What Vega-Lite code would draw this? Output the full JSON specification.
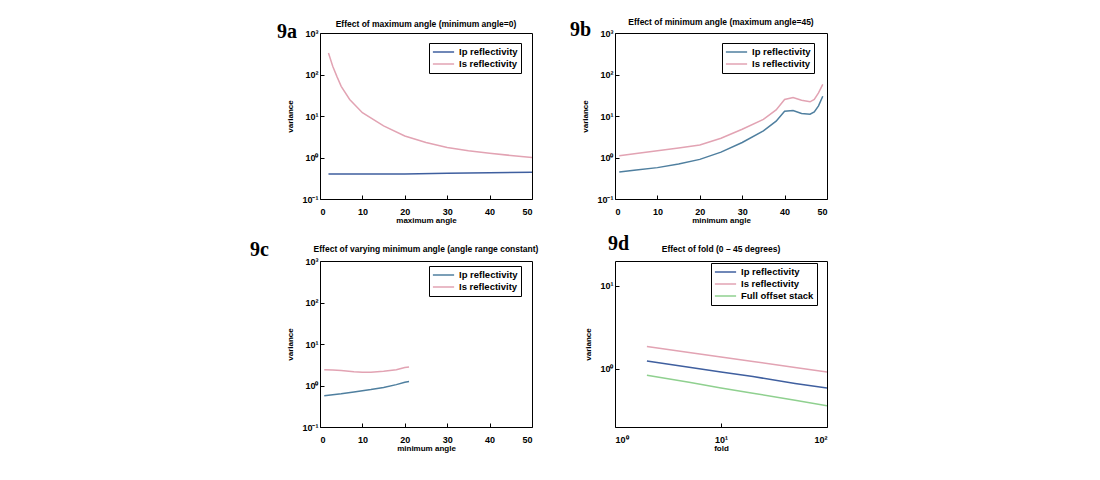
{
  "$schema": "https://vega.github.io/schema/vega-lite/v6.json",
  "background": "white",
  "autosize": {"type": "pad"},
  "padding": {"left": 249, "top": 17, "right": 0, "bottom": 0},
  "datasets": {
    "a": [
      {"series": "Is reflectivity", "x": 2, "y": 331},
      {"series": "Is reflectivity", "x": 3, "y": 158},
      {"series": "Is reflectivity", "x": 4, "y": 89},
      {"series": "Is reflectivity", "x": 5, "y": 52},
      {"series": "Is reflectivity", "x": 7, "y": 25},
      {"series": "Is reflectivity", "x": 10, "y": 12},
      {"series": "Is reflectivity", "x": 15, "y": 5.8},
      {"series": "Is reflectivity", "x": 20, "y": 3.3},
      {"series": "Is reflectivity", "x": 25, "y": 2.3},
      {"series": "Is reflectivity", "x": 30, "y": 1.74},
      {"series": "Is reflectivity", "x": 35, "y": 1.45},
      {"series": "Is reflectivity", "x": 40, "y": 1.26},
      {"series": "Is reflectivity", "x": 45, "y": 1.12},
      {"series": "Is reflectivity", "x": 50, "y": 1.0},
      {"series": "Ip reflectivity", "x": 2, "y": 0.40},
      {"series": "Ip reflectivity", "x": 10, "y": 0.40},
      {"series": "Ip reflectivity", "x": 20, "y": 0.40},
      {"series": "Ip reflectivity", "x": 30, "y": 0.42},
      {"series": "Ip reflectivity", "x": 40, "y": 0.43},
      {"series": "Ip reflectivity", "x": 50, "y": 0.44}
    ],
    "b": [
      {"series": "Is reflectivity", "x": 1, "y": 1.1},
      {"series": "Is reflectivity", "x": 5, "y": 1.25},
      {"series": "Is reflectivity", "x": 10, "y": 1.45},
      {"series": "Is reflectivity", "x": 15, "y": 1.7},
      {"series": "Is reflectivity", "x": 20, "y": 2.0},
      {"series": "Is reflectivity", "x": 25, "y": 2.9},
      {"series": "Is reflectivity", "x": 30, "y": 4.8},
      {"series": "Is reflectivity", "x": 35, "y": 8.3},
      {"series": "Is reflectivity", "x": 38, "y": 14},
      {"series": "Is reflectivity", "x": 40, "y": 25},
      {"series": "Is reflectivity", "x": 42, "y": 28},
      {"series": "Is reflectivity", "x": 44, "y": 24},
      {"series": "Is reflectivity", "x": 46, "y": 22},
      {"series": "Is reflectivity", "x": 47, "y": 25},
      {"series": "Is reflectivity", "x": 48, "y": 36},
      {"series": "Is reflectivity", "x": 49, "y": 58},
      {"series": "Ip reflectivity", "x": 1, "y": 0.45},
      {"series": "Ip reflectivity", "x": 5, "y": 0.5},
      {"series": "Ip reflectivity", "x": 10, "y": 0.57},
      {"series": "Ip reflectivity", "x": 15, "y": 0.7},
      {"series": "Ip reflectivity", "x": 20, "y": 0.9},
      {"series": "Ip reflectivity", "x": 25, "y": 1.35},
      {"series": "Ip reflectivity", "x": 30, "y": 2.3},
      {"series": "Ip reflectivity", "x": 35, "y": 4.4},
      {"series": "Ip reflectivity", "x": 38, "y": 7.5},
      {"series": "Ip reflectivity", "x": 40, "y": 13},
      {"series": "Ip reflectivity", "x": 42, "y": 13.5},
      {"series": "Ip reflectivity", "x": 44, "y": 11.5},
      {"series": "Ip reflectivity", "x": 46, "y": 11},
      {"series": "Ip reflectivity", "x": 47, "y": 12.5},
      {"series": "Ip reflectivity", "x": 48, "y": 17.5},
      {"series": "Ip reflectivity", "x": 49, "y": 30}
    ],
    "c": [
      {"series": "Is reflectivity", "x": 1, "y": 2.4},
      {"series": "Is reflectivity", "x": 3, "y": 2.35},
      {"series": "Is reflectivity", "x": 5, "y": 2.3},
      {"series": "Is reflectivity", "x": 8, "y": 2.15},
      {"series": "Is reflectivity", "x": 10, "y": 2.1},
      {"series": "Is reflectivity", "x": 12, "y": 2.1},
      {"series": "Is reflectivity", "x": 15, "y": 2.2},
      {"series": "Is reflectivity", "x": 18, "y": 2.4},
      {"series": "Is reflectivity", "x": 20, "y": 2.7},
      {"series": "Is reflectivity", "x": 21, "y": 2.8},
      {"series": "Ip reflectivity", "x": 1, "y": 0.57},
      {"series": "Ip reflectivity", "x": 3, "y": 0.6},
      {"series": "Ip reflectivity", "x": 5, "y": 0.63},
      {"series": "Ip reflectivity", "x": 8, "y": 0.7},
      {"series": "Ip reflectivity", "x": 10, "y": 0.75},
      {"series": "Ip reflectivity", "x": 12, "y": 0.8},
      {"series": "Ip reflectivity", "x": 15, "y": 0.9},
      {"series": "Ip reflectivity", "x": 18, "y": 1.05},
      {"series": "Ip reflectivity", "x": 20, "y": 1.2},
      {"series": "Ip reflectivity", "x": 21, "y": 1.25}
    ],
    "d": [
      {"series": "Is reflectivity", "x": 2, "y": 1.86},
      {"series": "Is reflectivity", "x": 5, "y": 1.58},
      {"series": "Is reflectivity", "x": 10, "y": 1.39},
      {"series": "Is reflectivity", "x": 20, "y": 1.23},
      {"series": "Is reflectivity", "x": 50, "y": 1.04},
      {"series": "Is reflectivity", "x": 100, "y": 0.92},
      {"series": "Ip reflectivity", "x": 2, "y": 1.25},
      {"series": "Ip reflectivity", "x": 5, "y": 1.05},
      {"series": "Ip reflectivity", "x": 10, "y": 0.92},
      {"series": "Ip reflectivity", "x": 20, "y": 0.81},
      {"series": "Ip reflectivity", "x": 50, "y": 0.67},
      {"series": "Ip reflectivity", "x": 100, "y": 0.59},
      {"series": "Full offset stack", "x": 2, "y": 0.84},
      {"series": "Full offset stack", "x": 5, "y": 0.69},
      {"series": "Full offset stack", "x": 10, "y": 0.59},
      {"series": "Full offset stack", "x": 20, "y": 0.51},
      {"series": "Full offset stack", "x": 50, "y": 0.42},
      {"series": "Full offset stack", "x": 100, "y": 0.36}
    ]
  },
  "columns": 2,
  "spacing": {"column": 83, "row": 62},
  "bounds": "flush",
  "resolve": {
    "scale": {"color": "independent", "x": "independent", "y": "independent"},
    "legend": {"color": "independent"}
  },
  "concat": [
    {
      "width": 212, "height": 166,
      "title": {"text": "Effect of maximum angle (minimum angle=0)", "dy": 10},
      "layer": [
        {
          "data": {"name": "a"},
          "mark": {"type": "line", "strokeWidth": 1.5, "clip": true},
          "encoding": {
            "x": {"field": "x", "type": "quantitative", "scale": {"domain": [0, 50]}, "axis": {"values": [0, 10, 20, 30, 40, 50], "title": "maximum angle"}},
            "y": {"field": "y", "type": "quantitative", "scale": {"type": "log", "domain": [0.1, 1000], "nice": false}, "axis": {"values": [0.1, 1, 10, 100, 1000], "labelExpr": "'10' + (datum.value < 0.5 ? '⁻¹' : datum.value < 5 ? '⁰' : datum.value < 50 ? '¹' : datum.value < 500 ? '²' : '³')", "title": "variance"}},
            "color": {"field": "series", "type": "nominal", "scale": {"domain": ["Ip reflectivity", "Is reflectivity"], "range": ["#3f5f9f", "#e2a3b3"]}, "legend": {"title": null, "orient": "none", "legendX": 109, "legendY": 10}}
          }
        },
        {
          "data": {"values": [{"label": "9a"}]},
          "mark": {"type": "text", "font": "Liberation Serif", "fontWeight": "bold", "fontSize": 20, "align": "right", "baseline": "alphabetic", "dx": -23, "dy": 5},
          "encoding": {"text": {"field": "label"}, "x": {"datum": 0}, "y": {"datum": 1000}}
        }
      ]
    },
    {
      "width": 212, "height": 166,
      "title": {"text": "Effect of minimum angle (maximum angle=45)", "dy": 10},
      "layer": [
        {
          "data": {"name": "b"},
          "mark": {"type": "line", "strokeWidth": 1.5, "clip": true},
          "encoding": {
            "x": {"field": "x", "type": "quantitative", "scale": {"domain": [0, 50]}, "axis": {"values": [0, 10, 20, 30, 40, 50], "title": "minimum angle"}},
            "y": {"field": "y", "type": "quantitative", "scale": {"type": "log", "domain": [0.1, 1000], "nice": false}, "axis": {"values": [0.1, 1, 10, 100, 1000], "labelExpr": "'10' + (datum.value < 0.5 ? '⁻¹' : datum.value < 5 ? '⁰' : datum.value < 50 ? '¹' : datum.value < 500 ? '²' : '³')", "title": "variance"}},
            "color": {"field": "series", "type": "nominal", "scale": {"domain": ["Ip reflectivity", "Is reflectivity"], "range": ["#4f7f9f", "#e2a3b3"]}, "legend": {"title": null, "orient": "none", "legendX": 107, "legendY": 10}}
          }
        },
        {
          "data": {"values": [{"label": "9b"}]},
          "mark": {"type": "text", "font": "Liberation Serif", "fontWeight": "bold", "fontSize": 20, "align": "right", "baseline": "alphabetic", "dx": -24, "dy": 3},
          "encoding": {"text": {"field": "label"}, "x": {"datum": 0}, "y": {"datum": 1000}}
        }
      ]
    },
    {
      "width": 212, "height": 166,
      "title": {"text": "Effect of varying minimum angle (angle range constant)", "dy": 17},
      "layer": [
        {
          "data": {"name": "c"},
          "mark": {"type": "line", "strokeWidth": 1.5, "clip": true},
          "encoding": {
            "x": {"field": "x", "type": "quantitative", "scale": {"domain": [0, 50]}, "axis": {"values": [0, 10, 20, 30, 40, 50], "title": "minimum angle"}},
            "y": {"field": "y", "type": "quantitative", "scale": {"type": "log", "domain": [0.1, 1000], "nice": false}, "axis": {"values": [0.1, 1, 10, 100, 1000], "labelExpr": "'10' + (datum.value < 0.5 ? '⁻¹' : datum.value < 5 ? '⁰' : datum.value < 50 ? '¹' : datum.value < 500 ? '²' : '³')", "title": "variance"}},
            "color": {"field": "series", "type": "nominal", "scale": {"domain": ["Ip reflectivity", "Is reflectivity"], "range": ["#4f7f9f", "#e2a3b3"]}, "legend": {"title": null, "orient": "none", "legendX": 109, "legendY": 5}}
          }
        },
        {
          "data": {"values": [{"label": "9c"}]},
          "mark": {"type": "text", "font": "Liberation Serif", "fontWeight": "bold", "fontSize": 20, "align": "right", "baseline": "alphabetic", "dx": -51, "dy": -5},
          "encoding": {"text": {"field": "label"}, "x": {"datum": 0}, "y": {"datum": 1000}}
        }
      ]
    },
    {
      "width": 212, "height": 166,
      "title": {"text": "Effect of fold (0 – 45 degrees)", "dy": 23},
      "layer": [
        {
          "data": {"name": "d"},
          "mark": {"type": "line", "strokeWidth": 1.5, "clip": true},
          "encoding": {
            "x": {"field": "x", "type": "quantitative", "scale": {"type": "log", "domain": [1, 100], "nice": false}, "axis": {"values": [1, 10, 100], "labelExpr": "'10' + (datum.value < 5 ? '⁰' : datum.value < 50 ? '¹' : '²')", "title": "fold"}},
            "y": {"field": "y", "type": "quantitative", "scale": {"type": "log", "domain": [0.2, 20], "nice": false}, "axis": {"values": [1, 10], "labelExpr": "'10' + (datum.value < 5 ? '⁰' : '¹')", "title": "variance"}},
            "color": {"field": "series", "type": "nominal", "scale": {"domain": ["Ip reflectivity", "Is reflectivity", "Full offset stack"], "range": ["#3f5f9f", "#e2a3b3", "#8fd08f"]}, "legend": {"title": null, "orient": "none", "legendX": 96, "legendY": 2}}
          }
        },
        {
          "data": {"values": [{"label": "9d"}]},
          "mark": {"type": "text", "font": "Liberation Serif", "fontWeight": "bold", "fontSize": 20, "align": "right", "baseline": "alphabetic", "dx": 14, "dy": -11},
          "encoding": {"text": {"field": "label"}, "x": {"datum": 1}, "y": {"datum": 20}}
        }
      ]
    }
  ],
  "config": {
    "font": "Liberation Sans",
    "view": {"stroke": "black", "strokeWidth": 1},
    "axis": {
      "labelFont": "Liberation Sans", "labelFontWeight": "bold", "labelFontSize": 9, "labelColor": "black",
      "titleFont": "Liberation Sans", "titleFontSize": 8, "titleFontWeight": "bold", "titleColor": "black",
      "grid": false, "domain": false, "tickColor": "black", "tickSize": -4
    },
    "axisX": {"labelPadding": 12, "titlePadding": 0},
    "axisY": {"labelPadding": 6, "titlePadding": 7},
    "title": {"font": "Liberation Sans", "fontSize": 8.5, "fontWeight": "bold", "color": "black", "offset": 4},
    "legend": {
      "fillColor": "white", "strokeColor": "black", "padding": 3, "cornerRadius": 0,
      "symbolType": "stroke", "symbolSize": 450, "symbolStrokeWidth": 1.5,
      "labelFont": "Liberation Sans", "labelFontSize": 9.5, "labelFontWeight": "bold", "labelColor": "black",
      "rowPadding": 0, "clipHeight": 12
    }
  }
}
